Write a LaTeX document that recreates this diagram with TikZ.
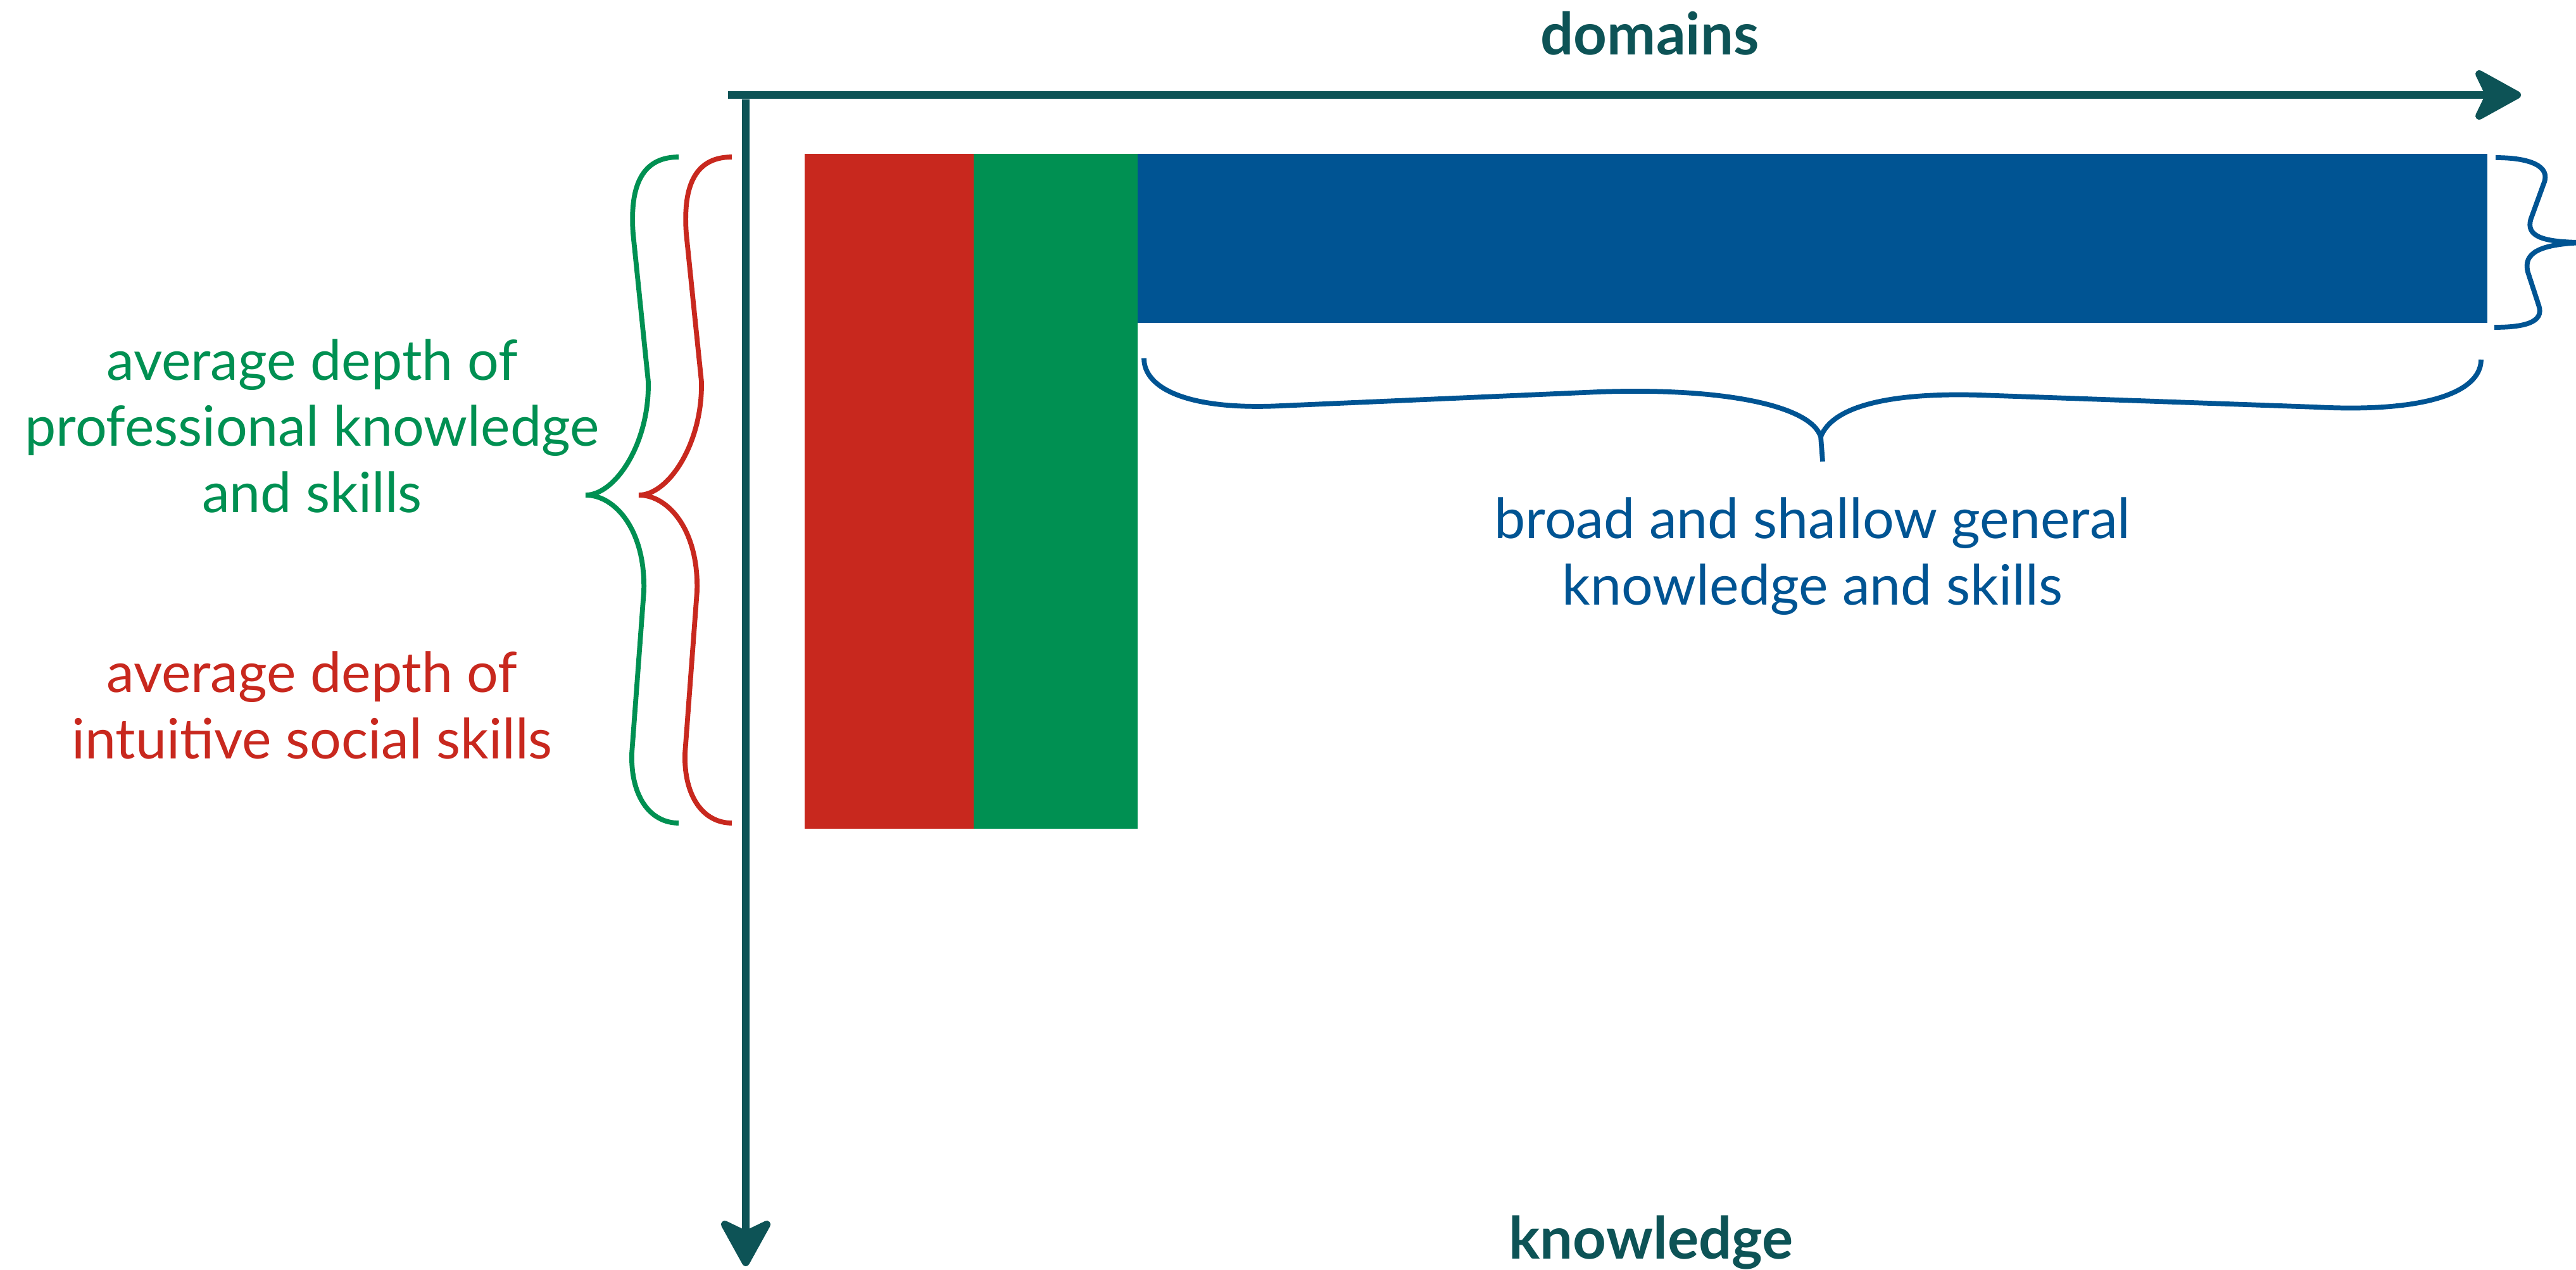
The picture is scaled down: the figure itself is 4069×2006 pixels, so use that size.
\documentclass[tikz,border=0pt]{standalone}
\usepackage{fontspec}
\setmainfont{Lato}
\usepackage{tikz}
\usetikzlibrary{arrows.meta, positioning, calc}
\definecolor{AxisTeal}{HTML}{0D5356}
\definecolor{SocialRed}{HTML}{C8281E}
\definecolor{ProGreen}{HTML}{009052}
\definecolor{GeneralBlue}{HTML}{005493}
\tikzset{
  % Bar styles
  barbox/.style={rectangle, draw=none, inner sep=0pt, outer sep=0pt},
  % Arrow styles
  axisarrow/.style={-{Stealth[length=0.85cm, width=0.93cm, inset=0.22cm, round]}, line width=3.4pt, AxisTeal},
  bracemark/.style={line width=2.2pt},
  % Brace shape for the two depth braces
  pics/sidebrace/.style={code={
    \draw[bracemark, #1] (0,0) .. controls (-62,0) and (-77,52) .. (-72,121)
      -- (-48,355) .. controls (-46,452) and (-100,534) .. (-147,534)
      .. controls (-100,534) and (-52,590) .. (-55,686)
      -- (-74,942) .. controls (-76,1010) and (-45,1052) .. (0,1052);
  }},
  % Text styles
  axistext/.style={font=\fontsize{26.2}{30}\selectfont\bfseries, text=AxisTeal, inner sep=0pt},
  sidetext/.style={font=\fontsize{25}{29.6}\selectfont, align=center, inner sep=0pt}
}

\begin{document}
\begin{tikzpicture}[x=0.01cm, y=-0.01cm]
  \useasboundingbox (0,0) rectangle (4069,2006);

  % Bars
  \node[barbox, fill=SocialRed, minimum width=2.67cm, minimum height=10.65cm, anchor=north west] (social) at (1271,243) {};
  \node[barbox, fill=ProGreen, minimum width=2.59cm, minimum height=10.65cm, right=0pt of social] (pro) {};
  \node[barbox, fill=GeneralBlue, minimum width=21.3cm, minimum height=2.67cm, anchor=north west] (general) at (pro.north east) {};

  % Axes
  \coordinate (hstart) at (1150,150);
  \coordinate (hend) at (3982,150);
  \coordinate (vstart) at (1178,157);
  \coordinate (vend) at (1178,2000);
  \draw[axisarrow] (hstart) -- (hend);
  \draw[axisarrow] (vstart) -- (vend);
  \node[axistext, anchor=base] (domains) at (2606,87) {domains};
  \node[axistext, anchor=base] (knowledge) at (2608,1988) {knowledge};

  % Braces
  \pic at (1072,248) {sidebrace=ProGreen};
  \pic at (1156,248) {sidebrace=SocialRed};
  \draw[bracemark, GeneralBlue] (1807,566) .. controls (1807,615) and (1880,648) .. (2023,641)
    -- (2525,619) .. controls (2720,612) and (2860,640) .. (2876,690) -- (2879,729)
    (2876,690) .. controls (2895,640) and (2990,620) .. (3127,624)
    -- (3658,643) .. controls (3830,652) and (3919,620) .. (3919,568);
  \draw[bracemark, GeneralBlue] (3942,249) .. controls (3995,249) and (4030,262) .. (4018,290)
    -- (3998,345) .. controls (3988,375) and (4020,383) .. (4085,383)
    .. controls (4010,385) and (3985,400) .. (3993,430)
    -- (4010,482) .. controls (4020,510) and (3985,517) .. (3940,517);

  % Labels
  \node[sidetext, text=ProGreen, anchor=base] (protext) at (493,809) {average depth of\\professional knowledge\\and skills};
  \node[sidetext, text=SocialRed, anchor=base] (socialtext) at (493,1198) {average depth of\\intuitive social skills};
  \node[sidetext, text=GeneralBlue, anchor=base] (generaltext) at (2863,955) {broad and shallow general\\knowledge and skills};
\end{tikzpicture}
\end{document}
